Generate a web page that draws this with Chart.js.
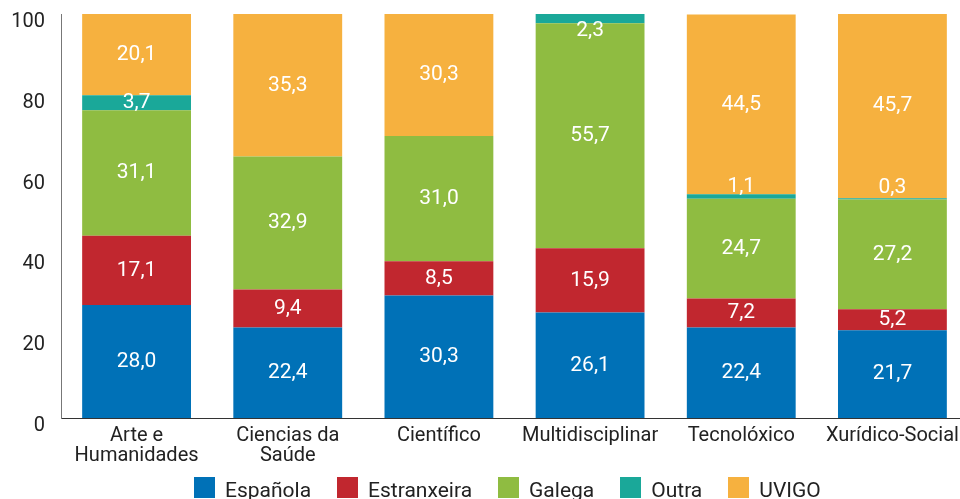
<!DOCTYPE html>
<html>
<head>
<meta charset="utf-8">
<script src="https://cdn.jsdelivr.net/npm/chart.js@4/dist/chart.umd.min.js"></script>
<style>
  html, body { margin: 0; padding: 0; background: #fff; overflow: hidden; }
  #wrap { position: relative; width: 968px; height: 499px; }
  #legend { position: absolute; left: 194px; top: 477px; display: flex; gap: 26px;
            font-family: Roboto, sans-serif; font-size: 21px; color: #222; }
  #legend .item { display: flex; align-items: flex-start; white-space: nowrap; }
  #legend .box { width: 21px; height: 21px; margin-right: 10px; }
  #legend span { line-height: 22px; margin-top: 2px; }
</style>
</head>
<body>
<div id="wrap">
  <canvas id="myChart" width="968" height="499"></canvas>
  <div id="legend"></div>
</div>
<script>
var categories = [["Arte e", "Humanidades"], ["Ciencias da", "Saúde"], "Científico", "Multidisciplinar", "Tecnolóxico", "Xurídico-Social"];
var espanola    = [28.0, 22.4, 30.3, 26.1, 22.4, 21.7];
var estranxeira = [17.1, 9.4, 8.5, 15.9, 7.2, 5.2];
var galega      = [31.1, 32.9, 31.0, 55.7, 24.7, 27.2];
var outra       = [3.7, 0, 0, 2.3, 1.1, 0.3];
var uvigo       = [20.1, 35.3, 30.3, 0, 44.5, 45.7];
var yTicks      = [0, 20, 40, 60, 80, 100];

var seriesNames  = ["Española", "Estranxeira", "Galega", "Outra", "UVIGO"];
var seriesData   = [espanola, estranxeira, galega, outra, uvigo];
var seriesColors = ["#0071b7", "#c1272f", "#8fbc41", "#1aa899", "#f6b13f"];

// small segments have their label nudged off the band (Outra only)
var outraNudge = [0, 0, 0, 12, -10, -11];

var barLabels = {
    id: "barLabels",
    afterDatasetsDraw: function (chart) {
        var ctx = chart.ctx;
        ctx.save();
        ctx.font = "21px Roboto, sans-serif";
        ctx.fillStyle = "#ffffff";
        ctx.textAlign = "center";
        ctx.textBaseline = "middle";
        chart.data.datasets.forEach(function (ds, i) {
            var meta = chart.getDatasetMeta(i);
            meta.data.forEach(function (bar, j) {
                var v = ds.data[j];
                if (!v) return;
                var y = (bar.y + bar.base) / 2;
                if (i === 3) y += outraNudge[j];
                ctx.fillText(v.toFixed(1).replace(".", ","), bar.x, y);
            });
        });
        ctx.restore();
    }
};

var ctx = document.getElementById("myChart").getContext("2d");
var barChart = new Chart(ctx, {
    type: "bar",
    data: {
        labels: categories,
        datasets: seriesNames.map(function (name, i) {
            return {
                label: name,
                data: seriesData[i],
                backgroundColor: seriesColors[i],
                borderWidth: 0,
                barPercentage: 0.72,
                categoryPercentage: 1
            };
        })
    },
    options: {
        responsive: false,
        animation: false,
        layout: { padding: { top: 14, left: 0, right: 0, bottom: 0 } },
        plugins: { legend: { display: false }, tooltip: { enabled: false } },
        scales: {
            x: {
                stacked: true,
                grid: { display: false, drawTicks: false },
                border: { display: true, color: "#333", width: 1 },
                ticks: { color: "#222", font: { family: "Roboto", size: 20, lineHeight: 1 }, padding: 8, maxRotation: 0, autoSkip: false },
                afterFit: function (s) { s.height = 81; s.paddingLeft = 0; s.paddingRight = 0; }
            },
            y: {
                stacked: true,
                min: 0,
                max: 100,
                afterBuildTicks: function (s) { s.ticks = yTicks.map(function (v) { return { value: v }; }); },
                grid: { display: false, drawTicks: false },
                border: { display: true, color: "#777", width: 1 },
                ticks: { color: "#222", font: { family: "Roboto", size: 20 }, padding: 16, labelOffset: 8 },
                afterFit: function (s) { s.width = 61; s.paddingTop = 0; s.paddingBottom = 0; }
            }
        }
    },
    plugins: [barLabels]
});

var legend = document.getElementById("legend");
seriesNames.forEach(function (name, i) {
    var item = document.createElement("div");
    item.className = "item";
    item.innerHTML = '<div class="box" style="background:' + seriesColors[i] + '"></div><span>' + name + '</span>';
    legend.appendChild(item);
});
</script>
</body>
</html>
